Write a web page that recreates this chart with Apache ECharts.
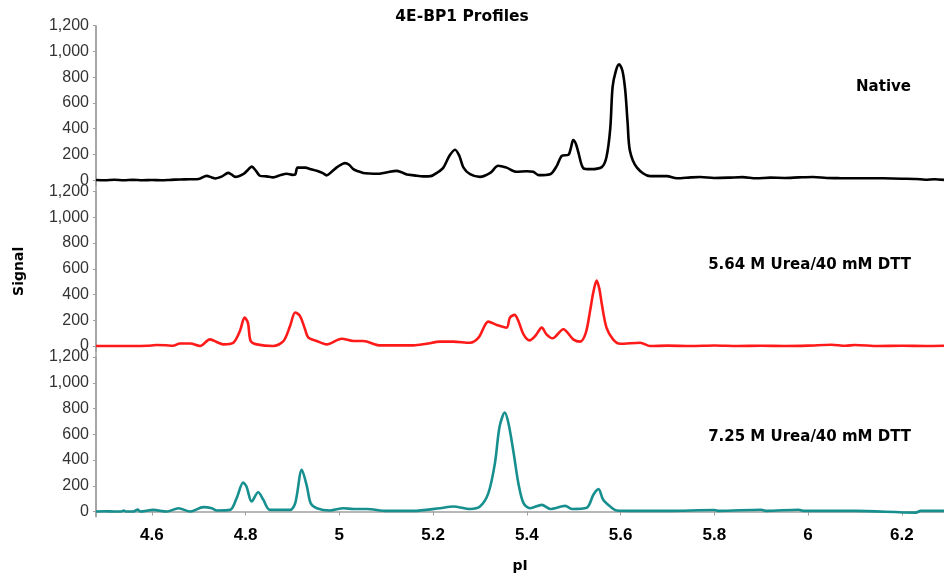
<!DOCTYPE html>
<html>
<head>
<meta charset="utf-8">
<script src="https://cdn.jsdelivr.net/npm/echarts@6/dist/echarts.min.js"></script>
<style>html,body{margin:0;padding:0;background:#fff}#c{width:944px;height:575px}</style>
</head>
<body>
<div id="c"></div>
<script>
var chartTitle = '4E-BP1 Profiles';
var seriesNames = ['Native', '5.64 M Urea/40 mM DTT', '7.25 M Urea/40 mM DTT'];
var xTicks = [4.6, 4.8, 5, 5.2, 5.4, 5.6, 5.8, 6, 6.2];
var yTicks = [0, 200, 400, 600, 800, 1000, 1200];

var nativeX = [4.481,4.50,4.52,4.54,4.56,4.58,4.60,4.62,4.64,4.66,4.68,4.70,4.717,4.728,4.735,4.750,4.763,4.770,4.778,4.796,4.805,4.813,4.822,4.831,4.845,4.859,4.875,4.888,4.900,4.906,4.911,4.927,4.940,4.952,4.965,4.973,4.985,4.994,5.003,5.012,5.021,5.030,5.040,5.051,5.065,5.080,5.100,5.122,5.133,5.144,5.160,5.179,5.195,5.208,5.222,5.235,5.247,5.256,5.265,5.279,5.300,5.322,5.339,5.350,5.357,5.378,5.400,5.414,5.425,5.450,5.464,5.475,5.489,5.494,5.499,5.505,5.510,5.521,5.535,5.560,5.570,5.578,5.583,5.590,5.597,5.604,5.610,5.615,5.620,5.635,5.663,5.699,5.720,5.75,5.77,5.80,5.83,5.86,5.89,5.92,5.95,5.98,6.01,6.04,6.07,6.10,6.13,6.16,6.20,6.23,6.25,6.27,6.29];
var nativeY = [2,0,4,0,3,0,2,0,3,6,8,10,34,22,14,30,57,45,26,50,80,106,75,34,30,22,40,50,42,45,98,98,85,73,55,38,70,98,120,133,120,86,70,57,52,50,60,73,62,45,38,30,32,57,98,190,237,190,98,47,26,57,112,105,98,66,70,66,40,47,112,190,198,250,312,280,216,92,86,102,180,400,723,850,900,850,698,450,229,98,32,32,15,22,25,18,20,24,15,20,18,22,25,18,16,15,16,15,12,10,4,8,3];

var ureaX = [4.481,4.52,4.56,4.59,4.61,4.63,4.645,4.66,4.682,4.703,4.724,4.742,4.753,4.774,4.788,4.798,4.805,4.811,4.824,4.859,4.881,4.895,4.906,4.916,4.927,4.934,4.952,4.973,5.005,5.030,5.051,5.087,5.158,5.186,5.215,5.243,5.279,5.297,5.318,5.336,5.357,5.364,5.374,5.382,5.393,5.406,5.418,5.432,5.442,5.455,5.478,5.499,5.514,5.526,5.535,5.542,5.549,5.555,5.560,5.570,5.584,5.599,5.642,5.663,5.70,5.75,5.80,5.85,5.90,5.95,6.00,6.05,6.08,6.10,6.15,6.20,6.25,6.29];
var ureaY = [0,0,0,2,8,6,2,20,20,0,52,26,13,26,117,221,182,39,13,0,39,156,260,234,130,65,39,13,57,39,39,5,5,18,34,34,26,65,190,164,143,221,242,195,91,44,78,143,91,60,130,52,34,104,273,420,508,440,326,143,52,18,26,0,3,0,4,0,2,0,3,10,2,8,0,2,0,2];

var dttX = [4.481,4.50,4.52,4.535,4.54,4.545,4.56,4.57,4.575,4.603,4.632,4.657,4.682,4.710,4.728,4.739,4.767,4.781,4.795,4.802,4.813,4.827,4.838,4.852,4.895,4.906,4.920,4.931,4.939,4.952,4.980,5.009,5.030,5.059,5.101,5.158,5.215,5.243,5.279,5.300,5.318,5.332,5.342,5.353,5.361,5.372,5.382,5.393,5.407,5.432,5.450,5.482,5.496,5.528,5.542,5.553,5.563,5.578,5.592,5.62,5.70,5.80,5.81,5.90,5.91,5.98,5.99,6.10,6.23,6.24,6.29];
var dttY = [0,2,0,0,8,0,0,15,0,13,0,26,0,34,26,8,13,104,225,194,78,150,91,13,13,65,324,194,65,26,8,26,20,20,5,5,26,39,20,39,143,375,660,768,683,453,220,65,26,52,20,44,20,30,130,174,91,39,8,5,5,12,5,14,5,14,5,5,-8,5,5];

function pairs(xs, ys) { return xs.map(function (x, i) { return [x, ys[i]]; }); }
var colors = ['#000000', '#ff1a1a', '#178f8f'];
var tops = [25.7, 191.5, 357];
var gridH = 159.7;

var chart = echarts.init(document.getElementById('c'), null, {renderer: 'canvas'});
var grids = [], xAxes = [], yAxes = [], series = [];
var dataSets = [pairs(nativeX, nativeY), pairs(ureaX, ureaY), pairs(dttX, dttY)];
for (var i = 0; i < 3; i++) {
  grids.push({left: 96, right: 0, top: tops[i], height: gridH, containLabel: false});
  xAxes.push({
    type: 'value', gridIndex: i, min: 4.481, max: 6.29, show: i === 2,
    axisLine: {show: true, lineStyle: {color: '#a0a0a0', width: 1.5}},
    axisTick: {show: true, length: 4, lineStyle: {color: '#a0a0a0'}, customValues: xTicks},
    axisLabel: {customValues: xTicks, color: '#000', fontFamily: 'Liberation Sans, Arial, sans-serif', fontWeight: 'bold', fontSize: 17, margin: 10,
      formatter: function (v) { return String(Math.round(v * 10) / 10); }},
    splitLine: {show: false}
  });
  yAxes.push({
    type: 'value', gridIndex: i, min: -40, max: 1200,
    name: i === 1 ? 'Signal' : '', nameLocation: 'middle', nameGap: 70,
    nameTextStyle: {fontFamily: 'DejaVu Sans, sans-serif', fontWeight: 'bold', fontSize: 14, color: '#000'},
    axisLine: {show: true, lineStyle: {color: '#a0a0a0', width: 1.5}},
    axisTick: {show: true, length: 3, inside: false, lineStyle: {color: '#a0a0a0'}, customValues: yTicks},
    axisLabel: {customValues: yTicks, color: '#333', fontFamily: 'Liberation Sans, Arial, sans-serif', fontSize: 16, margin: 7,
      formatter: function (v) { return v.toLocaleString('en-US'); }},
    splitLine: {show: false}
  });
  series.push({
    type: 'line', name: seriesNames[i], xAxisIndex: i, yAxisIndex: i,
    data: dataSets[i], showSymbol: false, smooth: 0.3, clip: false,
    lineStyle: {color: colors[i], width: 2.6}, itemStyle: {color: colors[i]}, animation: false
  });
}

var labelStyle = {fontFamily: 'DejaVu Sans, sans-serif', fontWeight: 'bold', fontSize: 15, fill: '#000'};
chart.setOption({
  backgroundColor: '#fff',
  animation: false,
  grid: grids, xAxis: xAxes, yAxis: yAxes, series: series,
  graphic: [
    {type: 'line', shape: {x1: 96, y1: tops[0], x2: 96, y2: tops[2] + gridH}, style: {stroke: '#a0a0a0', lineWidth: 1.5}, z: 1},
    {type: 'text', style: Object.assign({text: chartTitle, x: 462, y: 17, textAlign: 'center', textVerticalAlign: 'middle'}, labelStyle, {fontSize: 15.5})},
    {type: 'text', style: Object.assign({text: seriesNames[0], x: 911, y: 87, textAlign: 'right', textVerticalAlign: 'middle'}, labelStyle)},
    {type: 'text', style: Object.assign({text: seriesNames[1], x: 911, y: 265, textAlign: 'right', textVerticalAlign: 'middle'}, labelStyle)},
    {type: 'text', style: Object.assign({text: seriesNames[2], x: 911, y: 437, textAlign: 'right', textVerticalAlign: 'middle'}, labelStyle)},
    {type: 'text', style: Object.assign({text: 'pI', x: 520, y: 566, textAlign: 'center', textVerticalAlign: 'middle'}, labelStyle, {fontSize: 14})}
  ]
});
</script>
</body>
</html>
